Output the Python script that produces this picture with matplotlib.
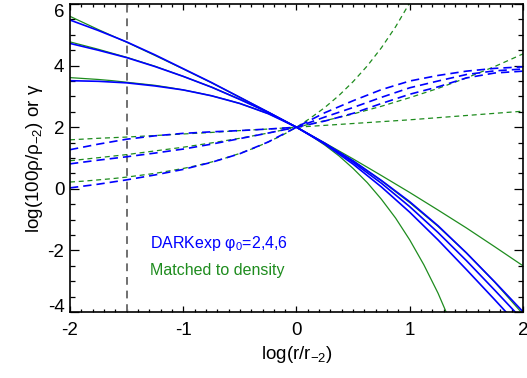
import matplotlib
matplotlib.use("Agg")
import matplotlib.pyplot as plt
from matplotlib.ticker import MultipleLocator

plt.rcParams["font.family"] = ["Liberation Sans", "DejaVu Sans"]
plt.rcParams["mathtext.fontset"] = "custom"
plt.rcParams["mathtext.rm"] = "Liberation Sans"
plt.rcParams["mathtext.it"] = "Liberation Sans:italic"
plt.rcParams["mathtext.sf"] = "Liberation Sans"
plt.rcParams["axes.unicode_minus"] = False

# log(r/r_-2) grid the curves were read on
logr = [-2.0, -1.75, -1.5, -1.25, -1.0, -0.75, -0.5, -0.25, 0.0,
        0.25, 0.5, 0.75, 1.0, 1.25, 1.5, 1.75, 2.0]
# finer grid for the most curved matched profile
logr_fine = [-2.0, -1.875, -1.75, -1.625, -1.5, -1.375, -1.25, -1.125, -1.0,
             -0.875, -0.75, -0.625, -0.5, -0.375, -0.25, -0.125, 0.0,
             0.125, 0.25, 0.375, 0.5, 0.625, 0.75, 0.875, 1.0, 1.125, 1.25, 1.375]

# DARKexp density, log(100 rho/rho_-2)
dark_rho_a = [3.51, 3.49, 3.44, 3.34, 3.21, 3.02, 2.77, 2.44, 2.0,
              1.45, 0.80, 0.06, -0.76, -1.66, -2.62, -3.60, -4.60]
dark_rho_b = [4.72, 4.50, 4.26, 3.97, 3.65, 3.30, 2.90, 2.48, 2.0,
              1.47, 0.86, 0.18, -0.58, -1.42, -2.33, -3.29, -4.27]
dark_rho_c = [5.48, 5.14, 4.77, 4.35, 3.90, 3.45, 2.97, 2.49, 2.0,
              1.48, 0.91, 0.27, -0.42, -1.20, -2.08, -3.02, -3.99]

# DARKexp log slope gamma
dark_gam_a = [0.03, 0.15, 0.29, 0.45, 0.63, 0.86, 1.14, 1.52, 2.0,
              2.47, 2.86, 3.22, 3.50, 3.68, 3.82, 3.91, 3.96]
dark_gam_b = [0.81, 0.93, 1.04, 1.16, 1.29, 1.45, 1.63, 1.81, 2.0,
              2.33, 2.64, 2.97, 3.28, 3.50, 3.71, 3.83, 3.89]
dark_gam_c = [1.27, 1.45, 1.61, 1.72, 1.80, 1.85, 1.89, 1.94, 2.0,
              2.20, 2.45, 2.77, 3.07, 3.31, 3.60, 3.76, 3.82]

# matched (Einasto-like) density
fit_rho_1 = [5.60, 5.17, 4.76, 4.33, 3.89, 3.44, 2.97, 2.49, 2.0,
             1.49, 0.97, 0.43, -0.12, -0.69, -1.27, -1.88, -2.50]
fit_rho_2 = [4.77, 4.53, 4.27, 3.98, 3.65, 3.30, 2.91, 2.48, 2.0,
             1.47, 0.90, 0.26, -0.45, -1.22, -2.08, -3.03, -4.07]
fit_rho_3 = [3.61, 3.58, 3.55, 3.51, 3.46, 3.41, 3.36, 3.29, 3.21,
             3.12, 3.02, 2.90, 2.77, 2.61, 2.44, 2.23, 2.0,
             1.73, 1.42, 1.07, 0.66, 0.20, -0.34, -0.95, -1.66, -2.47, -3.39, -4.46]

# matched log slope
fit_gam_1 = [1.59, 1.64, 1.68, 1.73, 1.78, 1.83, 1.89, 1.94, 2.0,
             2.06, 2.12, 2.18, 2.24, 2.31, 2.38, 2.45, 2.52]
fit_gam_2 = [0.91, 1.01, 1.11, 1.23, 1.35, 1.49, 1.64, 1.81, 2.0,
             2.21, 2.43, 2.68, 2.96, 3.26, 3.60, 3.97, 4.38]
fit_gam_3 = [0.22, 0.25, 0.29, 0.33, 0.38, 0.44, 0.50, 0.58, 0.66,
             0.76, 0.87, 1.00, 1.15, 1.32, 1.52, 1.74, 2.0,
             2.30, 2.64, 3.03, 3.48, 3.99, 4.58, 5.26, 6.04, 6.93]

blue = "#0000ff"
green = "#1e8c1e"

fig = plt.figure(figsize=(5.27, 3.78), dpi=100)
ax = fig.add_axes([0.1328, 0.1746, 0.8596, 0.8148])

ax.axvline(-1.5, color="#707070", lw=1.4, ls=(0, (4, 3)))

# green first, blue over it
ax.plot(logr, fit_rho_1, color=green, lw=0.9)
ax.plot(logr, fit_rho_2, color=green, lw=0.9)
ax.plot(logr_fine, fit_rho_3, color=green, lw=0.9)
ax.plot(logr, fit_gam_1, color=green, lw=0.9, ls=(0, (4, 3)))
ax.plot(logr, fit_gam_2, color=green, lw=0.9, ls=(0, (4, 3)))
ax.plot(logr_fine[:len(fit_gam_3)], fit_gam_3, color=green, lw=0.9, ls=(0, (4, 3)))

for rho in (dark_rho_a, dark_rho_b, dark_rho_c):
    ax.plot(logr, rho, color=blue, lw=1.2)
for gam in (dark_gam_a, dark_gam_b, dark_gam_c):
    ax.plot(logr, gam, color=blue, lw=1.2, ls=(0, (5, 3)))

ax.set_xlim(-2, 2)
ax.set_ylim(-4, 6)
ax.xaxis.set_major_locator(MultipleLocator(1))
ax.xaxis.set_minor_locator(MultipleLocator(0.1))
ax.yaxis.set_major_locator(MultipleLocator(2))
ax.yaxis.set_minor_locator(MultipleLocator(0.5))
ax.tick_params(axis="both", which="both", direction="in", top=True, right=True,
               labelsize=13.5, width=0.9)
ax.tick_params(axis="x", which="major", length=4.3, pad=7)
ax.tick_params(axis="x", which="minor", length=2.4)
ax.tick_params(axis="y", which="major", length=6.5, pad=4)
ax.tick_params(axis="y", which="minor", length=3.6)
for sp in ax.spines.values():
    sp.set_linewidth(1.2)

ax.set_xlabel("log(r/r$_{-2}$)", fontsize=13.5, labelpad=4)
ax.set_ylabel("log(100ρ/ρ$_{-2}$) or γ", fontsize=13.5, labelpad=2)

ax.text(-1.29, -1.76, "DARKexp φ$_0$=2,4,6", color=blue, fontsize=11.5, va="center")
ax.text(-1.29, -2.64, "Matched to density", color=green, fontsize=11.5, va="center")

# keep the end labels inside the figure, as in the original
fig.canvas.draw()
for t in ax.yaxis.get_major_ticks():
    if abs(t.get_loc() - 6) < 1e-6:
        t.label1.set_va("top")
    elif abs(t.get_loc() + 4) < 1e-6:
        t.label1.set_va("baseline")

fig.savefig("out.png", dpi=100)
